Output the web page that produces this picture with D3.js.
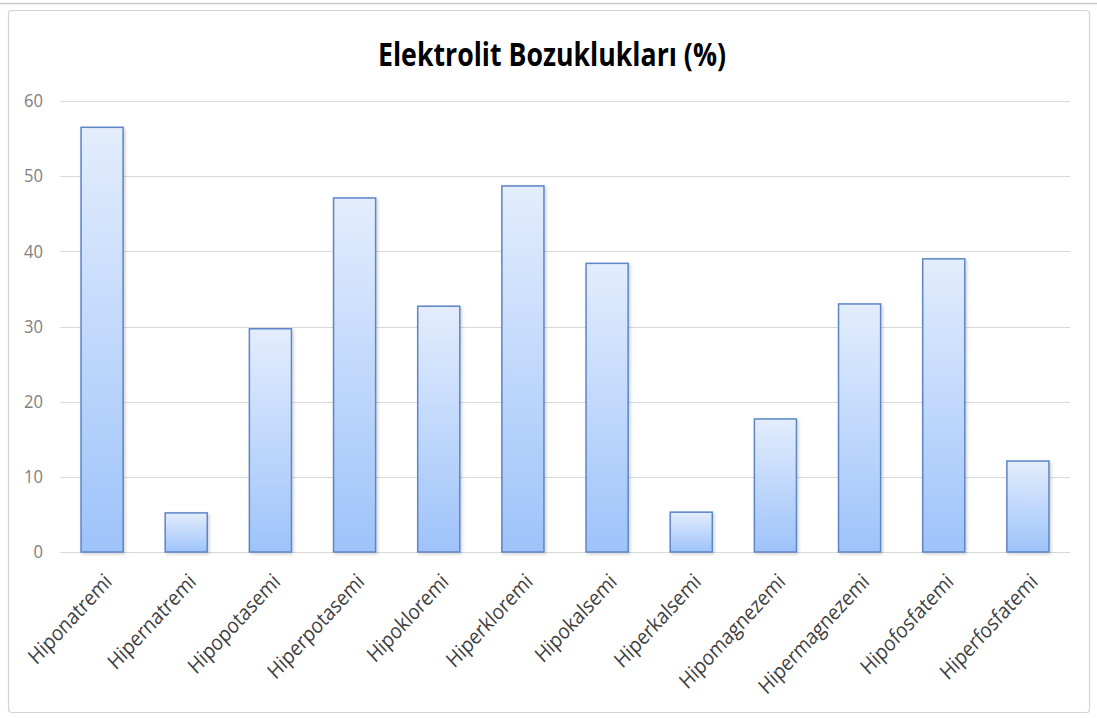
<!DOCTYPE html>
<html>
<head>
<meta charset="utf-8">
<script src="https://cdn.jsdelivr.net/npm/d3@7"></script>
<style>
  html, body { margin: 0; padding: 0; background: #ffffff; }
  svg { display: block; }
</style>
</head>
<body>
<svg id="chart" width="1097" height="718"></svg>
<script>
// Electrolyte disturbance frequencies (%)
const categories = [
  "Hiponatremi", "Hipernatremi", "Hipopotasemi", "Hiperpotasemi",
  "Hipokloremi", "Hiperkloremi", "Hipokalsemi", "Hiperkalsemi",
  "Hipomagnezemi", "Hipermagnezemi", "Hipofosfatemi", "Hiperfosfatemi"
];
const values = [56.5, 5.2, 29.7, 47.1, 32.7, 48.7, 38.4, 5.3, 17.7, 33.0, 39.0, 12.1];
const yTicks = [0, 10, 20, 30, 40, 50, 60];
const title = "Elektrolit Bozuklukları (%)";

const svg = d3.select("#chart");
const W = 1097, H = 718;
const plot = { left: 60, right: 1070, top: 101, bottom: 552 };
const font = "'Open Sans', 'Liberation Sans', sans-serif";

// Page decoration above the chart frame
svg.append("line").attr("x1", 0).attr("x2", W).attr("y1", 3.5).attr("y2", 3.5)
  .attr("stroke", "#c8c8c8").attr("stroke-width", 1.5);

// Chart frame
svg.append("rect")
  .attr("x", 8.5).attr("y", 10.5).attr("width", 1081).attr("height", 702)
  .attr("rx", 3)
  .attr("fill", "#ffffff").attr("stroke", "#d4d4d4").attr("stroke-width", 1.2);

const defs = svg.append("defs");
const grad = defs.append("linearGradient")
  .attr("id", "barFill").attr("x1", 0).attr("y1", 0).attr("x2", 0).attr("y2", 1);
grad.append("stop").attr("offset", "0%").attr("stop-color", "#e3edfd");
grad.append("stop").attr("offset", "100%").attr("stop-color", "#9ec3fa");

const shadow = defs.append("filter").attr("id", "barShadow")
  .attr("x", "-20%").attr("y", "-20%").attr("width", "140%").attr("height", "140%");
shadow.append("feDropShadow").attr("dx", 1.5).attr("dy", 1.5).attr("stdDeviation", 1.5)
  .attr("flood-color", "#000").attr("flood-opacity", 0.18);

const x = d3.scaleBand().domain(categories).range([plot.left, plot.right]).paddingInner(0.5).paddingOuter(0.25);
const y = d3.scaleLinear().domain([0, 60]).range([plot.bottom, plot.top]);

// Horizontal gridlines
svg.append("g").selectAll("line").data(yTicks).join("line")
  .attr("x1", plot.left).attr("x2", plot.right)
  .attr("y1", d => Math.round(y(d)) + 0.5).attr("y2", d => Math.round(y(d)) + 0.5)
  .attr("stroke", "#d9d9d9").attr("stroke-width", 1.2);

// Y axis labels
const yAxis = d3.axisLeft(y).tickValues(yTicks).tickSize(0).tickPadding(0);
const gy = svg.append("g").attr("transform", "translate(43,0)").call(yAxis);
gy.select(".domain").remove();
gy.selectAll("text")
  .attr("font-family", font)
  .attr("font-size", 18).attr("fill", "#808080")
  .attr("transform", "scale(0.92,1)");

// Bars
svg.append("g").selectAll("rect").data(values).join("rect")
  .attr("x", (d, i) => x(categories[i]))
  .attr("y", d => y(d))
  .attr("width", x.bandwidth())
  .attr("height", d => y(0) - y(d))
  .attr("fill", "url(#barFill)")
  .attr("stroke", "#5b86c5").attr("stroke-width", 1.5)
  .attr("filter", "url(#barShadow)");

// X axis labels, slanted upward to the right
const gx = svg.append("g").attr("transform", `translate(0,${plot.bottom})`)
  .call(d3.axisBottom(x).tickSize(0).tickPadding(0));
gx.select(".domain").remove();
gx.selectAll("text")
  .attr("font-family", font)
  .attr("font-size", 20).attr("fill", "#404040")
  .attr("text-anchor", "end")
  .attr("dy", "0")
  .attr("transform", "translate(11,31) scale(1,1.08) rotate(-45) scale(0.92,1)");

// Title
svg.append("text")
  .attr("x", 552).attr("y", 66)
  .attr("text-anchor", "middle")
  .attr("font-family", font)
  .attr("font-weight", "bold").attr("font-size", 32).attr("fill", "#000")
  .attr("textLength", 348).attr("lengthAdjust", "spacingAndGlyphs")
  .text(title);
</script>
</body>
</html>
